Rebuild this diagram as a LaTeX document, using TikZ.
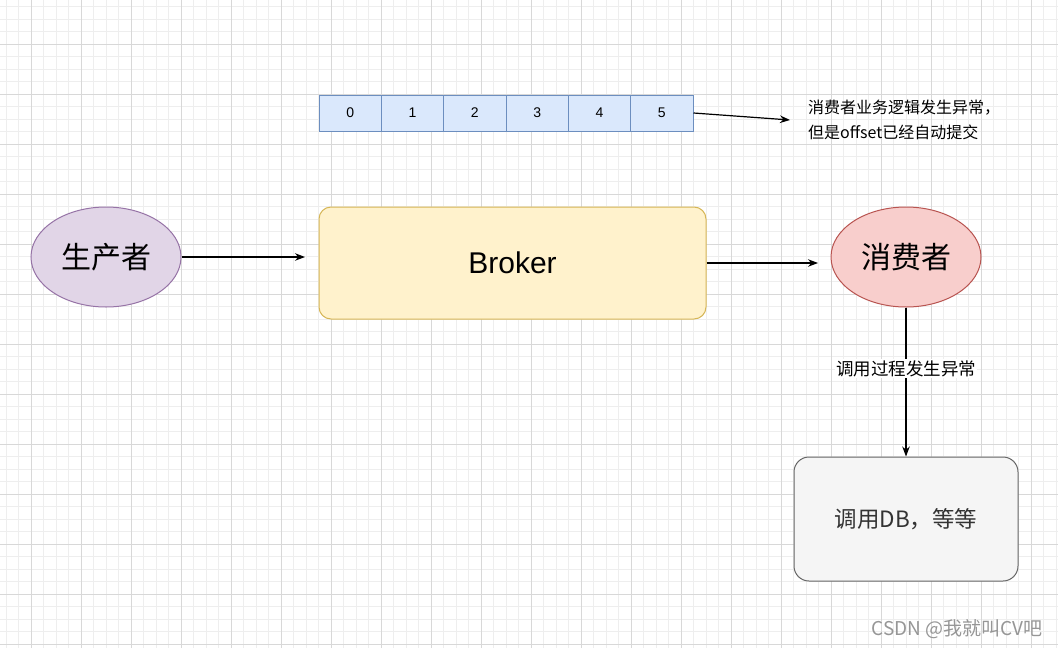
\documentclass[tikz,border=0pt]{standalone}
\usepackage{fontspec}
\setmainfont{Liberation Sans}
\newfontfamily\cjk{Noto Sans CJK SC}
\usetikzlibrary{shapes.geometric,arrows.meta}
\definecolor{gridminor}{RGB}{238,238,238}
\definecolor{gridmajor}{RGB}{216,216,216}
\definecolor{cellfill}{HTML}{DAE8FC}
\definecolor{cellline}{HTML}{6C8EBF}
\definecolor{prodfill}{HTML}{E1D5E7}
\definecolor{prodline}{HTML}{9673A6}
\definecolor{brokfill}{HTML}{FFF2CC}
\definecolor{brokline}{HTML}{D6B656}
\definecolor{consfill}{HTML}{F8CECC}
\definecolor{consline}{HTML}{B85450}
\definecolor{dbfill}{HTML}{F5F5F5}
\definecolor{dbline}{HTML}{666666}
\definecolor{dbtext}{HTML}{333333}
\definecolor{wmark}{RGB}{150,150,150}
\tikzset{
  cell/.style={draw=cellline, fill=cellfill, line width=1pt, minimum width=62.33pt, minimum height=36pt, inner sep=0pt, font=\fontsize{14}{16}\selectfont},
  actor/.style={ellipse, line width=1pt, minimum width=150pt, minimum height=100pt, inner sep=0pt, font=\cjk\fontsize{30}{34}\selectfont},
  conn/.style={line width=1.2pt, -{Stealth[length=10pt,width=7.5pt]}},
  note/.style={font=\cjk\fontsize{16}{25}\selectfont, align=left, anchor=west, inner sep=0pt}
}
\begin{document}
\begin{tikzpicture}[x=1pt,y=-1pt]
\useasboundingbox (0,0) rectangle (1058,648);
\fill[white] (0,0) rectangle (1058,648);
% grid
\foreach \i in {0,...,84} {
  \draw[gridminor, line width=0.8pt] ({6+12.5*\i},0) -- ({6+12.5*\i},648);
}
\foreach \i in {0,...,51} {
  \draw[gridminor, line width=0.8pt] (0,{6.5+12.5*\i}) -- (1058,{6.5+12.5*\i});
}
\foreach \i in {0,...,21} {
  \draw[gridmajor, line width=0.8pt] ({31+50*\i},0) -- ({31+50*\i},648);
}
\foreach \i in {0,...,12} {
  \draw[gridmajor, line width=0.8pt] (0,{44+50*\i}) -- (1058,{44+50*\i});
}
% array of offsets
\node[cell] (c0) at (350.17,113) {0};
\node[cell] (c1) at (412.5,113) {1};
\node[cell] (c2) at (474.83,113) {2};
\node[cell] (c3) at (537.17,113) {3};
\node[cell] (c4) at (599.5,113) {4};
\node[cell] (c5) at (661.83,113) {5};
\node[note] (note) at (808,119.5) {消费者业务逻辑发生异常，\\但是offset已经自动提交};
\coordinate (noteIn) at (790,120);
\draw[conn] (c5.east) -- (noteIn);
% main flow
\node[actor, draw=prodline, fill=prodfill] (prod) at (106,257) {生产者};
\node[draw=brokline, fill=brokfill, line width=1pt, rounded corners=12pt, minimum width=387pt, minimum height=112pt, font=\fontsize{30}{34}\selectfont] (broker) at (512.5,263) {Broker};
\node[actor, draw=consline, fill=consfill] (cons) at (906,257) {消费者};
\node[draw=dbline, fill=dbfill, line width=1pt, rounded corners=15pt, minimum width=224pt, minimum height=124pt, text=dbtext, font=\cjk\fontsize{22.5}{26}\selectfont] (db) at (906,519) {调用DB，等等};
\coordinate (brokIn) at (305,257);
\coordinate (consIn) at (818,263);
\draw[conn] (prod.east) -- (brokIn);
\draw[conn] (broker.east) -- (consIn);
\draw[conn] (cons.south) -- node[pos=0.41, fill=white, inner sep=1pt, font=\cjk\fontsize{17.5}{20}\selectfont] (lbl) {调用过程发生异常} (db.north);
% watermark
\node[font=\cjk\fontsize{19}{22}\selectfont, text=wmark, anchor=east, inner sep=0pt] (wm) at (1043,629) {CSDN @我就叫CV吧};
\end{tikzpicture}
\end{document}
